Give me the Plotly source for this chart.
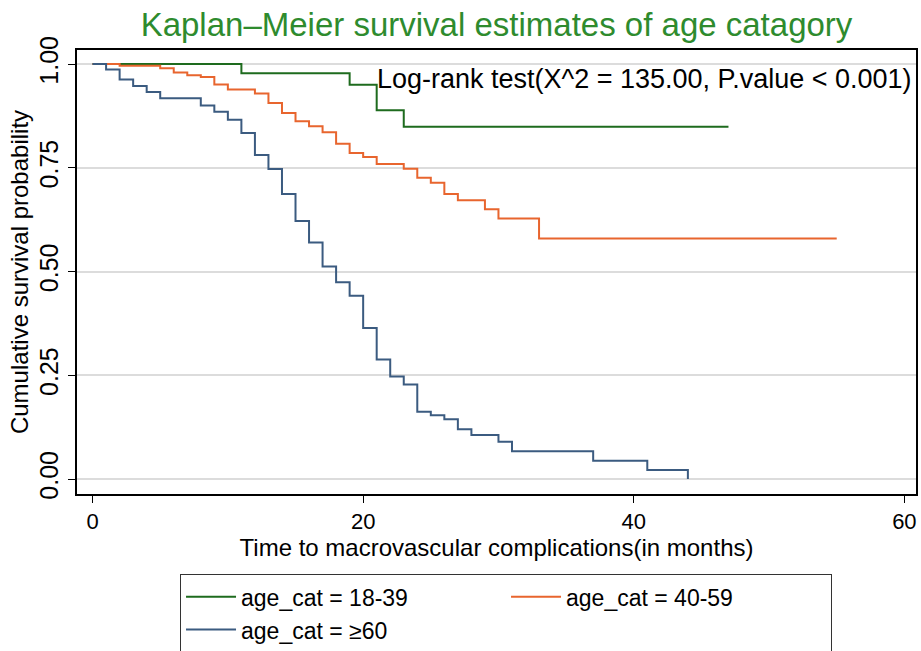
import plotly.graph_objects as go

# ---- data ----
green_t = [0, 11, 19, 21, 23, 47]
green_s = [1.0, 0.978, 0.950, 0.889, 0.849, 0.849]

orange_t = [0, 2, 5, 6, 7, 8, 9, 10, 12, 13, 14, 15, 16, 17, 18, 19, 20, 21,
            23, 24, 25, 26, 27, 29, 30, 33, 55]
orange_s = [1.0, 0.996, 0.990, 0.980, 0.973, 0.969, 0.951, 0.939, 0.929, 0.906,
            0.882, 0.862, 0.850, 0.836, 0.808, 0.786, 0.776, 0.759, 0.748,
            0.726, 0.714, 0.687, 0.672, 0.650, 0.628, 0.580, 0.580]

blue_t = [0, 1, 2, 3, 4, 5, 8, 9, 10, 11, 12, 13, 14, 15, 16, 17, 18, 19, 20,
          21, 22, 23, 24, 25, 26, 27, 28, 30, 31, 37, 41, 44]
blue_s = [1.0, 0.987, 0.963, 0.947, 0.933, 0.918, 0.900, 0.885, 0.866, 0.834,
          0.781, 0.747, 0.687, 0.622, 0.570, 0.512, 0.474, 0.442, 0.364, 0.288,
          0.247, 0.228, 0.162, 0.154, 0.144, 0.120, 0.106, 0.090, 0.067, 0.044,
          0.022, 0.0]

series_names = ["age_cat = 18-39", "age_cat = 40-59", "age_cat = \u226560"]
series_colors = ["#1e6b1e", "#e8652e", "#3b5b80"]

x_ticks = [0, 20, 40, 60]
y_ticks = [0.0, 0.25, 0.5, 0.75, 1.0]

title_text = "Kaplan\u2013Meier survival estimates of age catagory"
annot_text = "Log-rank test(X^2 = 135.00, P.value < 0.001)"
x_title = "Time to macrovascular complications(in months)"
y_title = "Cumulative survival probability"

narrow = "Liberation Sans Narrow, Arial Narrow, Liberation Sans, Arial"
regular = "Liberation Sans, Arial, sans-serif"

fig = go.Figure()
for t, s, name, col in zip([green_t, orange_t, blue_t],
                           [green_s, orange_s, blue_s],
                           series_names, series_colors):
    fig.add_trace(go.Scatter(x=t, y=s, mode="lines", name=name,
                             line=dict(color=col, width=2, shape="hv")))

fig.update_layout(
    width=921, height=651,
    margin=dict(l=77, r=5, t=50, b=157, autoexpand=False),
    paper_bgcolor="white", plot_bgcolor="white",
    title=dict(text=title_text, x=0.5, xanchor="center", xref="paper",
               y=0.962, yanchor="middle",
               font=dict(family=regular, size=33, color="#2e8b2e")),
    xaxis=dict(range=[-1.15, 60.86], tickvals=x_ticks, showgrid=False,
               zeroline=False, showline=True, linecolor="black", linewidth=1.5,
               mirror=True, ticks="outside", ticklen=7, tickcolor="black",
               automargin=False,
               tickfont=dict(family=narrow, size=22, color="black"),
               title=dict(text=x_title, standoff=2,
                          font=dict(family=narrow, size=24, color="black"))),
    yaxis=dict(range=[-0.036, 1.034], tickvals=y_ticks, tickformat=".2f",
               showgrid=True, gridcolor="#dcdcdc", gridwidth=1.5,
               zeroline=False, showline=True, linecolor="black", linewidth=1.5,
               mirror=True, ticks="outside", ticklen=7, tickcolor="black",
               tickangle=-90, automargin=False,
               tickfont=dict(family=regular, size=25, color="black"),
               title=dict(text=y_title, standoff=0,
                          font=dict(family=regular, size=24, color="black"))),
    legend=dict(orientation="h", x=0.1228, xanchor="left",
                yref="container", y=0.118, yanchor="top",
                bordercolor="#333333", borderwidth=1,
                itemwidth=50,
                entrywidth=260, entrywidthmode="pixels",
                font=dict(family=narrow, size=23, color="black"),
                traceorder="normal"),
    showlegend=True,
)

fig.add_annotation(text=annot_text, xref="paper", yref="paper",
                   x=0.998, y=0.935, xanchor="right", yanchor="middle",
                   showarrow=False,
                   font=dict(family=regular, size=27, color="black"))

fig.write_html("out.html")
